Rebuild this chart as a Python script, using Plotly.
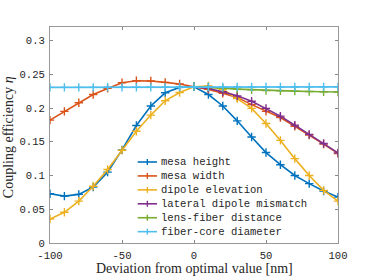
import plotly.graph_objects as go

x_full = [-100, -90, -80, -70, -60, -50, -40, -30, -20, -10, 0, 10, 20, 30, 40, 50, 60, 70, 80, 90, 100]
x_half = [0, 10, 20, 30, 40, 50, 60, 70, 80, 90, 100]

mesa_height = [0.073, 0.0695, 0.072, 0.083, 0.105, 0.138, 0.174, 0.203, 0.2225, 0.2305, 0.2315,
               0.220, 0.203, 0.181, 0.157, 0.134, 0.116, 0.100, 0.088, 0.077, 0.068]
mesa_width = [0.182, 0.195, 0.2077, 0.220, 0.229, 0.2374, 0.2404, 0.240, 0.238, 0.2355, 0.2315,
              0.2276, 0.2217, 0.2157, 0.205, 0.195, 0.186, 0.173, 0.160, 0.1465, 0.1327]
dipole_elevation = [0.0355, 0.0455, 0.062, 0.084, 0.109, 0.1375, 0.1655, 0.1895, 0.2107, 0.223, 0.2315,
                    0.2325, 0.2276, 0.214, 0.1994, 0.177, 0.152, 0.125, 0.100, 0.078, 0.062]
lateral_mismatch = [0.2315, 0.229, 0.224, 0.218, 0.210, 0.1994, 0.188, 0.1746, 0.161, 0.1475, 0.1335]
lens_fiber = [0.2315, 0.231, 0.2295, 0.228, 0.227, 0.226, 0.2255, 0.225, 0.2245, 0.224, 0.2236]
fiber_core = [0.2305, 0.2305, 0.2306, 0.2306, 0.2307, 0.2307, 0.2308, 0.2308, 0.2309, 0.231, 0.2315,
              0.231, 0.231, 0.231, 0.231, 0.2312, 0.2312, 0.2312, 0.2313, 0.2313, 0.2313]

series = [
    ("mesa height", x_full, mesa_height, "#0072BD"),
    ("mesa width", x_full, mesa_width, "#D95319"),
    ("dipole elevation", x_full, dipole_elevation, "#EDB120"),
    ("lateral dipole mismatch", x_half, lateral_mismatch, "#7E2F8E"),
    ("lens-fiber distance", x_half, lens_fiber, "#77AC30"),
    ("fiber-core diameter", x_full, fiber_core, "#4DBEEE"),
]

x_ticks = [-100, -50, 0, 50, 100]
y_ticks = [0, 0.05, 0.1, 0.15, 0.2, 0.25, 0.3]
y_labels = ["0", "0.05", "0.1", "0.15", "0.2", "0.25", "0.3"]

mono = "Liberation Mono"
serif = "Liberation Serif"
txt = "#262626"

fig = go.Figure()
for name, xs, ys, c in series:
    fig.add_trace(go.Scatter(
        x=xs, y=ys, name=name, mode="lines+markers", showlegend=False,
        line=dict(color=c, width=1.6),
        marker=dict(symbol="cross-thin", size=6, line=dict(color=c, width=1.4)),
    ))

# custom compact legend (paper coordinates)
leg_x0, leg_x1, leg_tx = 0.3045, 0.3715, 0.3785
leg_top, leg_step, cross_h = 0.375, 0.0645, 0.0139
shapes = []
annotations = []
for i, (name, xs, ys, c) in enumerate(series):
    yy = leg_top - i * leg_step
    xc = (leg_x0 + leg_x1) / 2
    shapes.append(dict(type="line", xref="paper", yref="paper", x0=leg_x0, x1=leg_x1, y0=yy, y1=yy,
                       line=dict(color=c, width=1.6)))
    shapes.append(dict(type="line", xref="paper", yref="paper", x0=xc, x1=xc, y0=yy - cross_h, y1=yy + cross_h,
                       line=dict(color=c, width=1.4)))
    annotations.append(dict(text=name, xref="paper", yref="paper", x=leg_tx, y=yy, xanchor="left",
                            yanchor="middle", showarrow=False, font=dict(family=mono, size=10.6, color=txt)))

annotations.append(dict(text="Deviation from optimal value [nm]", xref="paper", yref="paper", x=0.5, y=-0.117,
                        xanchor="center", yanchor="middle", showarrow=False,
                        font=dict(family=serif, size=14, color=txt)))
annotations.append(dict(text="Coupling efficiency <i>η</i>", xref="paper", yref="paper", x=-0.143, y=0.489,
                        xanchor="center", yanchor="middle", showarrow=False, textangle=-90,
                        font=dict(family=serif, size=14, color=txt)))

fig.update_layout(
    width=374, height=280,
    margin=dict(l=50, r=36, t=27, b=37),
    paper_bgcolor="white", plot_bgcolor="white",
    font=dict(family=mono, size=10.6, color=txt),
    showlegend=False,
    shapes=shapes, annotations=annotations,
    xaxis=dict(range=[-100, 100], tickvals=x_ticks, ticktext=[str(v) for v in x_ticks],
               ticks="inside", ticklen=3, tickcolor="#888", showline=True, linecolor="#999",
               linewidth=1, mirror="ticks", showgrid=False, zeroline=False, automargin=False,
               ticklabelstandoff=2, tickfont=dict(family=mono, size=10.6, color=txt)),
    yaxis=dict(range=[0, 0.32], tickvals=y_ticks, ticktext=y_labels,
               ticks="inside", ticklen=3, tickcolor="#888", showline=True, linecolor="#999",
               linewidth=1, mirror="ticks", showgrid=False, zeroline=False, automargin=False,
               ticklabelstandoff=2, tickfont=dict(family=mono, size=10.6, color=txt)),
)

# remove the browser's default 8px page margin so the figure fills the window
fig.write_html("out.html", config={"displayModeBar": False},
               post_script="document.body.style.margin='0';")
